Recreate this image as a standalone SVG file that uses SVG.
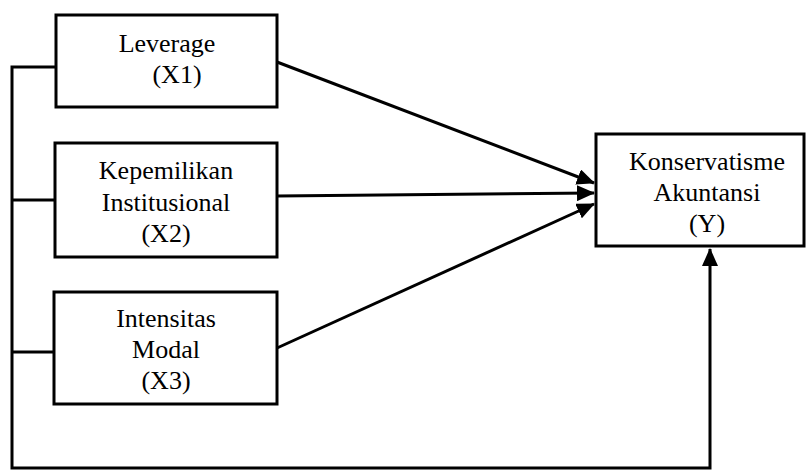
<svg xmlns="http://www.w3.org/2000/svg" width="807" height="471" viewBox="0 0 807 471">
<style>
.box{fill:#fff;stroke:#000;stroke-width:3}
.t{font-family:'Liberation Serif','Times New Roman',Tinos,'DejaVu Serif',serif;font-size:26px;fill:#000;text-anchor:middle}
.c{fill:none;stroke:#000;stroke-width:3}
</style>
<defs>
<marker id="ah" markerUnits="userSpaceOnUse" markerWidth="18" markerHeight="16" refX="17" refY="8" orient="auto" viewBox="0 0 18 16">
<path d="M0,0 L18,8 L0,16 Z" fill="#000"/>
</marker>
</defs>
<g id="connectors">
<path class="c" d="M55,67 H12 V468 H710 V249" marker-end="url(#ah)"/>
<path class="c" d="M12,200 H55"/>
<path class="c" d="M12,352 H55"/>
<line class="c" x1="277" y1="62" x2="594" y2="183" marker-end="url(#ah)"/>
<line class="c" x1="277" y1="196" x2="594" y2="193" marker-end="url(#ah)"/>
<line class="c" x1="277" y1="348" x2="594" y2="204" marker-end="url(#ah)"/>
</g>
<g id="x1">
<rect class="box" x="56" y="15" width="221" height="92"/>
<text class="t" x="167" y="52" font-family="Liberation Serif, serif">Leverage</text>
<text class="t" x="177" y="83" font-family="Liberation Serif, serif">(X1)</text>
</g>
<g id="x2">
<rect class="box" x="55" y="143" width="222" height="114"/>
<text class="t" x="166" y="179">Kepemilikan</text>
<text class="t" x="166" y="211">Institusional</text>
<text class="t" x="166" y="242">(X2)</text>
</g>
<g id="x3">
<rect class="box" x="54" y="292" width="223" height="112"/>
<text class="t" x="166" y="327">Intensitas</text>
<text class="t" x="166" y="358">Modal</text>
<text class="t" x="166" y="389">(X3)</text>
</g>
<g id="y">
<rect class="box" x="596" y="134" width="208" height="112"/>
<text class="t" x="707" y="170">Konservatisme</text>
<text class="t" x="707" y="201">Akuntansi</text>
<text class="t" x="707" y="232">(Y)</text>
</g>
</svg>
